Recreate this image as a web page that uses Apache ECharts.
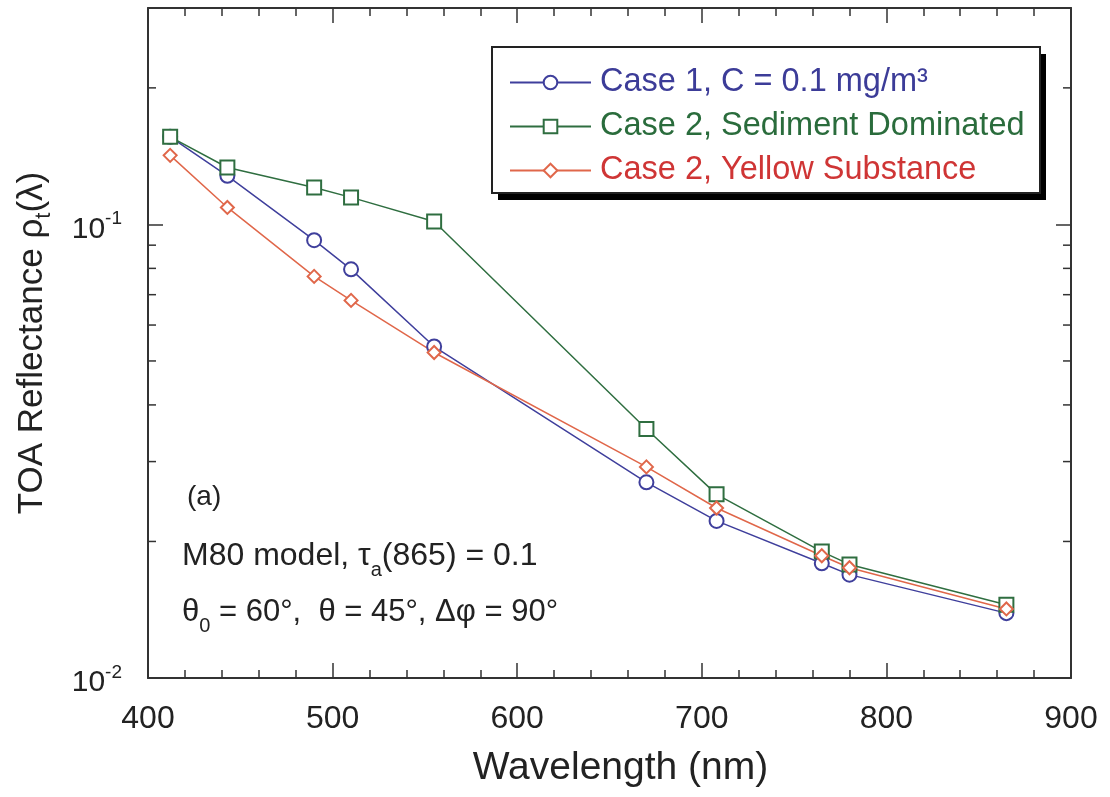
<!DOCTYPE html>
<html>
<head>
<meta charset="utf-8">
<script src="https://cdn.jsdelivr.net/npm/echarts@6/dist/echarts.min.js"></script>
<style>
html,body{margin:0;padding:0;background:#fff;}
#chart{width:1110px;height:797px;}
</style>
</head>
<body>
<div id="chart"></div>
<script>
// ---- data ----
const wavelengths = [412, 443, 490, 510, 555, 670, 708, 765, 780, 865];
const case1Values = [0.156, 0.128, 0.0923, 0.0796, 0.0538, 0.0270, 0.0222, 0.0179, 0.0169, 0.0139];
const sedimentValues = [0.156, 0.1335, 0.1206, 0.1147, 0.1015, 0.0354, 0.0254, 0.0190, 0.0178, 0.0145];
const yellowValues = [0.142, 0.109, 0.0768, 0.0680, 0.0522, 0.0292, 0.0237, 0.0186, 0.0175, 0.0142];
const seriesNames = ['Case 1, C = 0.1 mg/m³', 'Case 2, Sediment Dominated', 'Case 2, Yellow Substance'];
const xTickValues = [400, 500, 600, 700, 800, 900];
const yMinorTicks = [0.02, 0.03, 0.04, 0.05, 0.06, 0.07, 0.08, 0.09, 0.2];

const FONT = 'Liberation Sans, Arial, Helvetica, sans-serif';
const AX = '#333';
const colBlue = '#3f3f9c', colGreen = '#2f6e40', colOrange = '#e0674a';
const txtBlue = '#3c3c98', txtGreen = '#2a6c3c', txtRed = '#cf3535';

function pairs(xs, ys) { return xs.map((x, i) => [x, ys[i]]); }

const chart = echarts.init(document.getElementById('chart'), null, {renderer: 'canvas'});

const logLabel = function (v) {
  const e = Math.log10(v);
  const r = Math.round(e);
  if (Math.abs(e - r) > 1e-6) return '';
  return '{b|10}{s|' + r + '}';
};

const mkSeries = (name, data, color, symbol, size) => ({
  name: name, type: 'line', data: data, xAxisIndex: 0, yAxisIndex: 0,
  symbol: symbol, symbolSize: size, showSymbol: true,
  lineStyle: {color: color, width: 1.5},
  itemStyle: {color: color, borderColor: color, borderWidth: 1.5},
  emphasis: {disabled: true}, animation: false, z: 3
});

const option = {
  animation: false,
  textStyle: {fontFamily: FONT},
  grid: {left: 148, right: 39, top: 8, bottom: 119, outerBoundsMode: 'none', containLabel: false},
  legend: {
    orient: 'vertical', left: 492, top: 47, z: 10,
    padding: [19, 15, 9, 17],
    itemWidth: 81, itemHeight: 17, itemGap: 11,
    textStyle: {fontFamily: FONT, fontSize: 32.5, lineHeight: 32, padding: [0, 0, 0, 4]},
    data: [
      {name: seriesNames[0], textStyle: {color: txtBlue}},
      {name: seriesNames[1], textStyle: {color: txtGreen}},
      {name: seriesNames[2], textStyle: {color: txtRed}}
    ],
    selectedMode: false
  },
  xAxis: [{
    type: 'value', min: 400, max: 900, interval: 100, position: 'bottom',
    name: 'Wavelength (nm)', nameLocation: 'middle', nameGap: 71,
    nameTextStyle: {fontFamily: FONT, fontSize: 39, color: '#222', padding: [0, 0, 0, 22]},
    axisLine: {show: true, lineStyle: {color: AX, width: 2}},
    axisTick: {show: true, inside: true, length: 15, lineStyle: {color: AX, width: 1.5}},
    minorTick: {show: true, splitNumber: 5, length: 8, lineStyle: {color: AX, width: 1.5}},
    axisLabel: {show: true, margin: 25, fontSize: 32, color: '#222', fontFamily: FONT,
      formatter: v => xTickValues.indexOf(v) >= 0 ? String(v) : ''},
    splitLine: {show: false}
  }, {
    type: 'value', min: 400, max: 900, interval: 100, position: 'top',
    axisLine: {show: true, onZero: false, lineStyle: {color: AX, width: 2}},
    axisTick: {show: true, inside: true, length: 15, lineStyle: {color: AX, width: 1.5}},
    minorTick: {show: true, splitNumber: 5, length: 8, lineStyle: {color: AX, width: 1.5}},
    axisLabel: {show: false}, splitLine: {show: false}
  }],
  yAxis: [{
    type: 'log', logBase: 10, min: 0.01, max: 0.3, position: 'left',
    name: '{n|TOA Reflectance ρ}{t|t}{n|(λ)}', nameLocation: 'middle', nameGap: 97, nameRotate: 90,
    nameTextStyle: {fontFamily: FONT, color: '#222',
      rich: {
        n: {fontSize: 35, fontFamily: FONT, color: '#222', verticalAlign: 'top', lineHeight: 36},
        t: {fontSize: 22, fontFamily: FONT, color: '#222', verticalAlign: 'top', lineHeight: 22, padding: [18, 0, 0, 0]}
      }},
    axisLine: {show: true, onZero: false, lineStyle: {color: AX, width: 2}},
    axisTick: {show: true, inside: true, length: 15, lineStyle: {color: AX, width: 1.5}},
    axisLabel: {show: true, margin: 26, formatter: logLabel, color: '#222',
      rich: {
        b: {fontSize: 30, fontFamily: FONT, color: '#222', verticalAlign: 'top', lineHeight: 30, padding: [5, 0, 0, 0]},
        s: {fontSize: 19, fontFamily: FONT, color: '#222', verticalAlign: 'top', lineHeight: 19}
      }},
    splitLine: {show: false}
  }, {
    type: 'log', logBase: 10, min: 0.01, max: 0.3, position: 'right',
    axisLine: {show: true, onZero: false, lineStyle: {color: AX, width: 2}},
    axisTick: {show: true, inside: true, length: 15, lineStyle: {color: AX, width: 1.5}},
    axisLabel: {show: false}, splitLine: {show: false}
  }],
  graphic: [
    {type: 'rect', z: 5, silent: true, shape: {x: 498, y: 54, width: 548, height: 146},
      style: {fill: '#000'}},
    {type: 'rect', z: 6, silent: true, shape: {x: 492, y: 47, width: 548, height: 146},
      style: {fill: '#fff', stroke: '#222', lineWidth: 2}},
    {type: 'text', x: 187, y: 483, silent: true,
      style: {text: '(a)', font: '28px ' + FONT, fill: '#222', verticalAlign: 'top'}},
    {type: 'text', x: 182, y: 540, silent: true,
      style: {text: '{n|M80 model, τ}{s|a}{n|(865) = 0.1}', fill: '#222', verticalAlign: 'top',
        rich: {
          n: {fontSize: 32, fontFamily: FONT, fill: '#222', verticalAlign: 'top', lineHeight: 32},
          s: {fontSize: 20, fontFamily: FONT, fill: '#222', verticalAlign: 'top', lineHeight: 20, padding: [20, 0, 0, 0]}
        }}},
    {type: 'text', x: 182, y: 597, silent: true,
      style: {text: '{n|θ}{s|0}{n| = 60°,  θ = 45°, Δφ = 90°}', fill: '#222', verticalAlign: 'top',
        rich: {
          n: {fontSize: 31, fontFamily: FONT, fill: '#222', verticalAlign: 'top', lineHeight: 31},
          s: {fontSize: 20, fontFamily: FONT, fill: '#222', verticalAlign: 'top', lineHeight: 20, padding: [19, 0, 0, 0]}
        }}}
  ],
  series: [
    mkSeries(seriesNames[0], pairs(wavelengths, case1Values), colBlue, 'emptyCircle', 14),
    mkSeries(seriesNames[1], pairs(wavelengths, sedimentValues), colGreen, 'emptyRect', 14),
    mkSeries(seriesNames[2], pairs(wavelengths, yellowValues), colOrange, 'emptyDiamond', 13),
    {
      type: 'custom', xAxisIndex: 0, yAxisIndex: 0, silent: true, clip: false, z: 2,
      data: yMinorTicks.map(v => [400, v]),
      renderItem: function (params, api) {
        const y = api.coord([400, api.value(1)])[1];
        const cs = params.coordSys;
        const st = {stroke: AX, lineWidth: 1.5};
        return {type: 'group', children: [
          {type: 'line', shape: {x1: cs.x, y1: y, x2: cs.x + 8, y2: y}, style: st},
          {type: 'line', shape: {x1: cs.x + cs.width - 8, y1: y, x2: cs.x + cs.width, y2: y}, style: st}
        ]};
      }
    }
  ]
};
chart.setOption(option);
</script>
</body>
</html>
